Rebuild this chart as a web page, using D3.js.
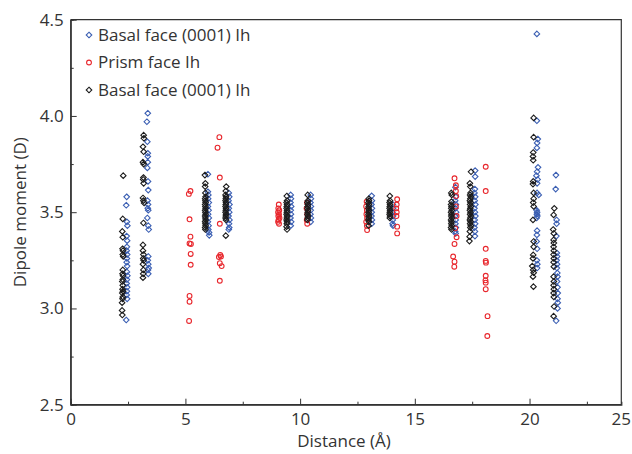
<!DOCTYPE html>
<html>
<head>
<meta charset="utf-8">
<script src="https://cdn.jsdelivr.net/npm/d3@7"></script>
<style>
  html, body { margin: 0; padding: 0; background: #fff; }
  svg text { font-family: "Open Sans", "Noto Sans", sans-serif; fill: #333; }
</style>
</head>
<body>
<svg id="chart" width="632" height="454"></svg>
<script>
// Dipole moment of water molecules versus distance from the surface.
// Each series is a list of [distance (Å), dipole moment (D)] pairs.

const seriesNames = ["Basal face (0001) Ih", "Prism face Ih", "Basal face (0001) Ih"];

const basalBlue = [
  // ~2.4 Å
  [2.44,3.58],[2.42,3.536],[2.45,3.45],[2.47,3.43],[2.44,3.376],[2.46,3.352],[2.45,3.32],[2.44,3.30],
  [2.46,3.28],[2.45,3.26],[2.44,3.24],[2.46,3.22],[2.45,3.19],[2.47,3.17],[2.45,3.15],[2.44,3.13],
  [2.46,3.11],[2.45,3.09],[2.44,3.07],[2.46,3.05],[2.42,2.94],
  // ~3.3 Å
  [3.36,4.014],[3.32,3.97],[3.34,3.866],[3.36,3.806],[3.36,3.79],[3.36,3.76],[3.34,3.73],[3.37,3.66],
  [3.38,3.615],[3.35,3.56],[3.37,3.54],[3.36,3.52],[3.38,3.51],[3.34,3.47],[3.38,3.43],[3.40,3.41],
  [3.38,3.27],[3.36,3.25],[3.38,3.23],[3.40,3.21],[3.37,3.20],[3.38,3.18],
  // ~6.0 Å
  [5.98,3.697],[5.98,3.606],[6.00,3.59],[5.99,3.57],[6.02,3.55],[5.98,3.53],[6.01,3.51],[5.99,3.49],
  [6.02,3.47],[5.98,3.45],[6.01,3.43],[6.00,3.41],[6.03,3.395],[6.04,3.38],
  // ~6.9 Å
  [6.89,3.60],[6.91,3.58],[6.88,3.56],[6.92,3.54],[6.89,3.52],[6.91,3.50],[6.88,3.48],[6.92,3.46],
  [6.90,3.44],[6.91,3.42],[6.89,3.41],
  // ~9.6 Å
  [9.59,3.59],[9.60,3.57],[9.58,3.55],[9.61,3.53],[9.59,3.51],[9.60,3.49],[9.58,3.47],[9.61,3.45],[9.59,3.43],
  // ~10.5 Å
  [10.46,3.59],[10.47,3.57],[10.45,3.55],[10.47,3.53],[10.46,3.51],[10.45,3.49],[10.47,3.47],[10.46,3.45],
  // ~13.1 Å
  [13.12,3.585],[13.13,3.56],[13.11,3.54],[13.13,3.52],[13.12,3.50],[13.11,3.48],[13.13,3.46],[13.12,3.44],
  // ~14.0 Å
  [14.04,3.54],[14.05,3.52],[14.03,3.50],[14.05,3.48],[14.04,3.46],[14.03,3.44],[14.05,3.43],
  // ~16.8 Å
  [16.77,3.63],[16.79,3.58],[16.76,3.56],[16.79,3.54],[16.77,3.52],[16.80,3.50],[16.76,3.48],[16.78,3.46],
  [16.77,3.44],[16.79,3.42],[16.76,3.40],[16.78,3.39],
  // ~17.6 Å
  [17.63,3.716],[17.63,3.685],[17.62,3.62],[17.60,3.60],[17.63,3.58],[17.61,3.56],[17.64,3.54],[17.60,3.52],
  [17.62,3.50],[17.64,3.48],[17.61,3.46],[17.63,3.44],[17.60,3.42],[17.62,3.40],[17.62,3.376],
  // ~20.3 Å
  [20.32,4.426],[20.32,3.975],[20.36,3.88],[20.33,3.86],[20.32,3.834],[20.37,3.733],[20.33,3.71],[20.30,3.69],
  [20.35,3.67],[20.33,3.65],[20.33,3.60],[20.40,3.59],[20.31,3.51],[20.33,3.50],[20.32,3.49],[20.34,3.48],
  [20.31,3.47],[20.33,3.404],[20.32,3.382],[20.31,3.348],[20.33,3.31],[20.32,3.25],[20.34,3.23],[20.33,3.21],
  // ~21.2 Å
  [21.15,3.693],[21.14,3.62],[21.18,3.46],[21.18,3.44],[21.17,3.376],[21.19,3.288],[21.20,3.27],[21.18,3.25],
  [21.20,3.23],[21.19,3.21],[21.21,3.184],[21.22,3.165],[21.20,3.14],[21.22,3.11],[21.23,3.08],[21.22,3.05],
  [21.23,3.03],[21.22,3.00],[21.16,2.936]
];

const prismRed = [
  // ~5.2 Å
  [5.22,3.61],[5.15,3.595],[5.18,3.463],[5.22,3.373],[5.18,3.338],[5.24,3.335],[5.23,3.283],[5.23,3.227],
  [5.18,3.065],[5.18,3.035],[5.16,2.935],
  // ~6.5 Å
  [6.48,3.89],[6.40,3.835],[6.50,3.68],[6.50,3.44],[6.52,3.278],[6.46,3.267],[6.55,3.27],[6.50,3.235],
  [6.58,3.22],[6.50,3.144],
  // ~9.1 Å
  [9.07,3.54],[9.05,3.52],[9.09,3.51],[9.04,3.50],[9.08,3.49],[9.05,3.48],[9.10,3.47],[9.06,3.46],
  [9.04,3.45],[9.08,3.44],
  // ~10.3 Å
  [10.30,3.55],[10.28,3.52],[10.31,3.49],[10.29,3.46],[10.31,3.44],
  // ~12.9 Å
  [12.90,3.555],[12.88,3.53],[12.91,3.51],[12.89,3.49],[12.92,3.47],[12.88,3.45],[12.91,3.43],[12.92,3.407],
  // ~14.2 Å
  [14.23,3.567],[14.21,3.54],[14.19,3.52],[14.21,3.50],[14.20,3.48],[14.23,3.425],[14.23,3.39],
  // ~16.7 Å
  [16.73,3.676],[16.79,3.64],[16.79,3.61],[16.80,3.584],[16.79,3.53],[16.82,3.48],[16.76,3.416],[16.82,3.37],
  [16.73,3.335],[16.67,3.27],[16.73,3.243],[16.72,3.217],
  // ~18.1 Å
  [18.09,3.736],[18.09,3.61],[18.09,3.31],[18.09,3.247],[18.10,3.238],[18.09,3.17],[18.08,3.146],[18.09,3.134],
  [18.09,3.10],[18.17,2.96],[18.16,2.857]
];

const basalBlack = [
  // ~2.3 Å
  [2.29,3.69],[2.27,3.465],[2.25,3.40],[2.27,3.37],[2.26,3.31],[2.28,3.30],[2.27,3.28],[2.29,3.27],
  [2.27,3.20],[2.26,3.18],[2.28,3.17],[2.27,3.15],[2.25,3.14],[2.27,3.12],[2.26,3.10],[2.28,3.09],
  [2.25,3.08],[2.27,3.06],[2.26,3.05],[2.24,3.03],[2.24,2.99],[2.25,2.966],
  // ~3.2 Å
  [3.18,3.90],[3.19,3.884],[3.15,3.84],[3.18,3.814],[3.15,3.76],[3.18,3.75],[3.17,3.68],[3.16,3.67],
  [3.18,3.65],[3.15,3.574],[3.17,3.56],[3.20,3.548],[3.17,3.444],[3.15,3.33],[3.15,3.30],[3.17,3.28],
  [3.16,3.26],[3.18,3.25],[3.15,3.23],[3.17,3.20],[3.16,3.18],[3.15,3.16],
  // ~5.9 Å
  [5.85,3.693],[5.87,3.65],[5.86,3.633],[5.87,3.60],[5.88,3.58],[5.86,3.57],[5.87,3.56],[5.88,3.55],
  [5.86,3.54],[5.87,3.53],[5.88,3.52],[5.86,3.51],[5.87,3.50],[5.88,3.49],[5.86,3.48],[5.87,3.47],
  [5.88,3.46],[5.86,3.45],[5.87,3.44],[5.88,3.43],[5.86,3.42],[5.87,3.41],
  // ~6.8 Å
  [6.78,3.633],[6.76,3.61],[6.75,3.59],[6.77,3.58],[6.76,3.57],[6.75,3.56],[6.77,3.55],[6.76,3.54],
  [6.75,3.53],[6.77,3.52],[6.76,3.51],[6.75,3.50],[6.77,3.49],[6.76,3.48],[6.75,3.47],[6.77,3.46],[6.76,3.378],
  // ~9.4 Å
  [9.42,3.584],[9.43,3.56],[9.41,3.55],[9.43,3.54],[9.42,3.53],[9.41,3.52],[9.43,3.51],[9.42,3.50],
  [9.41,3.49],[9.43,3.48],[9.42,3.47],[9.41,3.46],[9.43,3.45],[9.42,3.44],[9.41,3.425],[9.43,3.41],
  // ~10.3 Å
  [10.33,3.59],[10.34,3.56],[10.32,3.55],[10.34,3.54],[10.33,3.53],[10.32,3.52],[10.34,3.51],[10.33,3.50],
  [10.32,3.49],[10.34,3.48],[10.33,3.47],[10.32,3.46],
  // ~13.0 Å
  [12.99,3.57],[13.00,3.56],[12.98,3.55],[13.00,3.54],[12.99,3.53],[12.98,3.52],[13.00,3.51],[12.99,3.50],
  [12.98,3.49],[13.00,3.48],[12.99,3.47],[12.98,3.46],[13.00,3.45],[12.99,3.43],
  // ~13.9 Å
  [13.91,3.584],[13.92,3.56],[13.90,3.55],[13.92,3.54],[13.91,3.53],[13.90,3.52],[13.92,3.51],[13.91,3.50],
  [13.90,3.49],[13.92,3.48],[13.91,3.47],
  // ~16.6 Å
  [16.59,3.60],[16.61,3.59],[16.60,3.555],[16.58,3.54],[16.60,3.53],[16.59,3.52],[16.61,3.51],[16.58,3.50],
  [16.60,3.49],[16.59,3.48],[16.61,3.47],[16.58,3.46],[16.60,3.45],[16.59,3.44],[16.61,3.43],[16.58,3.42],[16.60,3.41],
  // ~17.4 Å
  [17.45,3.71],[17.40,3.65],[17.42,3.633],[17.43,3.60],[17.41,3.59],[17.44,3.58],[17.42,3.57],[17.40,3.56],
  [17.43,3.55],[17.41,3.54],[17.44,3.53],[17.42,3.52],[17.40,3.51],[17.43,3.50],[17.41,3.49],[17.44,3.48],
  [17.42,3.47],[17.40,3.46],[17.43,3.45],[17.41,3.44],[17.44,3.43],[17.42,3.42],[17.40,3.40],[17.39,3.373],[17.38,3.35],
  // ~20.2 Å
  [20.18,3.99],[20.18,3.89],[20.16,3.81],[20.15,3.79],[20.16,3.77],[20.16,3.66],[20.15,3.646],[20.18,3.60],
  [20.18,3.57],[20.16,3.55],[20.18,3.53],[20.15,3.46],[20.18,3.348],[20.18,3.32],[20.16,3.278],[20.15,3.26],
  [20.12,3.22],[20.16,3.20],[20.18,3.186],[20.15,3.165],[20.17,3.113],
  // ~21.1 Å
  [21.08,3.52],[21.05,3.486],[21.03,3.41],[21.06,3.39],[21.05,3.356],[21.06,3.34],[21.05,3.32],[21.06,3.30],
  [21.05,3.28],[21.06,3.26],[21.05,3.24],[21.06,3.217],[21.05,3.165],[21.06,3.14],[21.05,3.12],[21.06,3.10],
  [21.05,3.08],[21.06,3.06],[21.07,3.01],[21.05,2.96]
];

const xMajorTicks = [0, 5, 10, 15, 20];
const xMinorTicks = [2.5, 7.5, 12.5, 17.5, 22.5];
const xEndLabel = "25";
const yMajorTicks = [2.5, 3.0, 3.5, 4.0, 4.5];
const yMinorTicks = [2.75, 3.25, 3.75, 4.25];

const colors = ["#3b5fb3", "#e8262c", "#1c1c1c"];

const svg = d3.select("#chart");
const margin = { left: 70.7, right: 632 - 621.3, top: 19.7, bottom: 454 - 404.7 };
const W = 632, H = 454;
const tickFont = 17;

const x = d3.scaleLinear().domain([0, 24]).range([margin.left, W - margin.right]);
const y = d3.scaleLinear().domain([2.5, 4.5]).range([H - margin.bottom, margin.top]);

const axisColor = "#333";

// frame: top and right edges
svg.append("path")
  .attr("d", `M${x(0)},${y(4.5)}H${x(24)}V${y(2.5)}`)
  .attr("fill", "none").attr("stroke", axisColor).attr("stroke-width", 1.2);

// bottom axis, ticks pointing inward
const gx = svg.append("g").attr("transform", `translate(0,${y(2.5)})`);
gx.call(d3.axisBottom(x).tickValues(xMajorTicks).tickSize(-6).tickPadding(8).tickFormat(d3.format("d")));
gx.append("g").call(d3.axisBottom(x).tickValues(xMinorTicks).tickSize(-3).tickFormat(""));
gx.selectAll(".domain").attr("stroke", axisColor).attr("stroke-width", 1.2);
gx.selectAll("g.tick line").attr("stroke", axisColor);
gx.select(".domain").attr("d", `M${x(0)},0H${x(24)}`);
gx.selectAll("text").attr("font-size", tickFont).attr("fill", "#333");
gx.append("text")
  .attr("x", x(24)).attr("y", 8).attr("dy", "0.71em")
  .attr("text-anchor", "middle").attr("font-size", tickFont).text(xEndLabel);

// left axis, ticks pointing inward
const gy = svg.append("g").attr("transform", `translate(${x(0)},0)`);
gy.call(d3.axisLeft(y).tickValues(yMajorTicks).tickSize(-6).tickPadding(7).tickFormat(d3.format(".1f")));
gy.append("g").call(d3.axisLeft(y).tickValues(yMinorTicks).tickSize(-3).tickFormat(""));
gy.selectAll(".domain").attr("stroke", axisColor).attr("stroke-width", 1.2);
gy.selectAll("g.tick line").attr("stroke", axisColor);
gy.select(".domain").attr("d", `M0,${y(2.5)}V${y(4.5)}`);
gy.selectAll("text").attr("font-size", tickFont).attr("fill", "#333");

// axis titles
svg.append("text")
  .attr("x", (x(0) + x(24)) / 2 - 2).attr("y", 447)
  .attr("text-anchor", "middle").attr("font-size", 17)
  .text("Distance (Å)");
svg.append("text")
  .attr("transform", `translate(26,${(y(2.5) + y(4.5)) / 2}) rotate(-90)`)
  .attr("text-anchor", "middle").attr("font-size", 17)
  .text("Dipole moment (D)");

// marker shapes
const diamond = r => `M0,${-r}L${r},0L0,${r}L${-r},0Z`;
function drawMarker(sel, kind, color) {
  if (kind === "circle") {
    sel.append("circle").attr("r", 2.4)
      .attr("fill", "none").attr("stroke", color).attr("stroke-width", 1.1);
  } else {
    sel.append("path").attr("d", diamond(2.8))
      .attr("fill", "none").attr("stroke", color).attr("stroke-width", 1.1);
  }
}

const series = [
  { data: basalBlue, kind: "diamond", color: colors[0] },
  { data: prismRed, kind: "circle", color: colors[1] },
  { data: basalBlack, kind: "diamond", color: colors[2] }
];

series.forEach(s => {
  const g = svg.append("g");
  g.selectAll("g.pt").data(s.data).join("g")
    .attr("class", "pt")
    .attr("transform", d => `translate(${x(d[0])},${y(d[1])})`)
    .each(function () { drawMarker(d3.select(this), s.kind, s.color); });
});

// legend
const legend = svg.append("g").attr("transform", "translate(89,35)");
series.forEach((s, i) => {
  const row = legend.append("g").attr("transform", `translate(0,${i * 27.5})`);
  drawMarker(row, s.kind, s.color);
  row.append("text").attr("x", 9).attr("y", 0).attr("dy", "0.35em")
    .attr("font-size", 17).text(seriesNames[i]);
});
</script>
</body>
</html>
